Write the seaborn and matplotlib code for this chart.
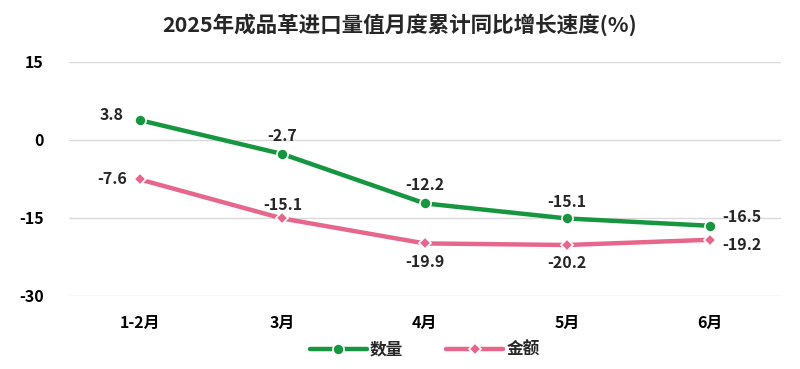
import matplotlib
matplotlib.use("Agg")
import matplotlib.pyplot as plt
import seaborn as sns
import pandas as pd

months = ["1-2月", "3月", "4月", "5月", "6月"]
quantity = [3.8, -2.7, -12.2, -15.1, -16.5]
amount = [-7.6, -15.1, -19.9, -20.2, -19.2]
series_names = ["数量", "金额"]

sns.set_theme(style="white")
plt.rcParams["font.family"] = ["Noto Sans CJK SC", "DejaVu Sans"]
plt.rcParams["axes.unicode_minus"] = False

df = pd.DataFrame({
    "月份": months * 2,
    "增速": quantity + amount,
    "指标": [series_names[0]] * len(months) + [series_names[1]] * len(months),
})
df["x"] = list(range(len(months))) * 2

colors = {"数量": "#16973F", "金额": "#E7678C"}

fig = plt.figure(figsize=(8, 3.69), dpi=100)
ax = fig.add_axes([0.086, 0.198, 0.89, 0.634])

sns.lineplot(data=df, x="x", y="增速", hue="指标", style="指标",
             palette=colors, markers={"数量": "o", "金额": "D"},
             dashes=False, linewidth=3.2, markersize=8,
             markeredgecolor="white", markeredgewidth=1.2, ax=ax)
# smaller diamond for 金额
for line in ax.lines:
    if line.get_marker() == "D":
        line.set_markersize(6)

ax.set_xlim(-0.5, len(months) - 0.5)
ax.set_ylim(-30, 15)
ax.set_yticks([15, 0, -15, -30])
ax.set_xticks(range(len(months)))
ax.set_xticklabels(months)
ax.grid(axis="y", color="#D9D9D9", linewidth=1)
ax.set_axisbelow(True)
for s in ax.spines.values():
    s.set_visible(False)
ax.tick_params(axis="both", length=0, labelsize=11.5, colors="black", pad=14)
ax.tick_params(axis="y", pad=18)
for t in ax.get_xticklabels() + ax.get_yticklabels():
    t.set_fontweight("bold")
ax.set_xlabel("")
ax.set_ylabel("")

# label offsets in pixels
q_off = [(-28, 5), (0, 18), (0, 18), (0, 16), (32, 9)]
a_off = [(-28, 0), (0, 13), (0, -19), (0, -18), (32, -5)]
for i, v in enumerate(quantity):
    ax.annotate(f"{v}", (i, v), xytext=q_off[i], textcoords="offset pixels",
                ha="center", va="center", fontsize=11.5, fontweight="bold")
for i, v in enumerate(amount):
    ax.annotate(f"{v}", (i, v), xytext=a_off[i], textcoords="offset pixels",
                ha="center", va="center", fontsize=11.5, fontweight="bold")

leg = ax.legend(loc="center", bbox_to_anchor=(0.5, -0.23), ncol=2,
                frameon=False, handlelength=3.4, handletextpad=0.2,
                columnspacing=2.6, prop={"weight": "bold", "size": 12})

fig.suptitle("2025年成品革进口量值月度累计同比增长速度(%)", x=0.5, y=0.965,
             fontsize=15.5, fontweight="bold")

fig.savefig("out.png", dpi=100)
